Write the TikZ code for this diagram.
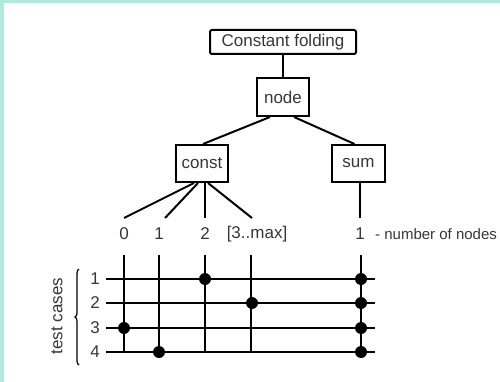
\documentclass[tikz,border=0pt]{standalone}
\usepackage{fontspec}
\setmainfont{Liberation Sans}
\usetikzlibrary{decorations.pathreplacing}
\definecolor{teal0}{RGB}{178,232,222}
\definecolor{ink}{RGB}{55,55,55}
\tikzset{
  box/.style={draw=black, line width=2pt, fill=white, inner sep=0pt, text=ink, font=\fontsize{17}{20}\selectfont},
  wire/.style={line width=2pt, draw=black},
  lbl/.style={text=ink, font=\fontsize{17}{20}\selectfont, inner sep=0pt},
  dot/.style={circle, fill=black, minimum size=12pt, inner sep=0pt},
}
\begin{document}
\begin{tikzpicture}[x=1pt,y=-1pt]
\useasboundingbox (0,0) rectangle (500,382);
\fill[teal0] (0,0) rectangle (500,382);
\fill[white] (4,3) rectangle (500,382);
% tree
\node[box, rounded corners=2pt, minimum width=146pt, minimum height=24pt] (top) at (283,42) {Constant folding};
\node[box, minimum width=52pt, minimum height=38pt] (nd) at (283,97) {node};
\node[box, minimum width=52pt, minimum height=37pt] (cst) at (202,163.5) {const};
\node[box, minimum width=53pt, minimum height=37pt] (sum) at (358.5,163.5) {sum};
\draw[wire] (top) -- (nd);
\draw[wire] ([xshift=-13pt]nd.south) -- ([xshift=1pt]cst.north);
\draw[wire] ([xshift=11pt]nd.south) -- ([xshift=-4pt]sum.north);
\coordinate (c0) at (124,218);
\coordinate (c1) at (165,218);
\coordinate (c2) at (205,218);
\coordinate (c3) at (252,218);
\coordinate (s0) at (360,218);
\draw[wire] ([xshift=-8pt]cst.south) -- (c0);
\draw[wire] ([xshift=-4pt]cst.south) -- (c1);
\draw[wire] ([xshift=3pt]cst.south) -- (c2);
\draw[wire] ([xshift=6pt]cst.south) -- (c3);
\draw[wire] (sum.south -| s0) -- (s0);
% labels
\node[lbl] (l0) at (124,234) {0};
\node[lbl] (l1) at (159,234) {1};
\node[lbl] (l2) at (205,234) {2};
\node[lbl] (l3) at (257,234) {[3..max]};
\node[lbl] (l4) at (360,234) {1};
\node[lbl, anchor=west, font=\fontsize{15}{18}\selectfont] (nn) at (375,234) {- number of nodes};
% grid
\foreach \i/\x in {0/124,1/159,2/205,3/251,4/361}{
  \coordinate (vt\i) at (\x,255);
  \coordinate (vb\i) at (\x,352);
  \draw[wire] (vt\i) -- (vb\i);
}
\foreach \j/\y in {1/279,2/303,3/328,4/352}{
  \coordinate (hl\j) at (106,\y);
  \coordinate (hr\j) at (375,\y);
  \draw[wire] (hl\j) -- (hr\j);
  \node[lbl] (r\j) at (95,\y) {\j};
}
% dots
\node[dot] (d1a) at (205,279) {};
\node[dot] (d1b) at (361,279) {};
\node[dot] (d2a) at (252,303) {};
\node[dot] (d2b) at (361,303) {};
\node[dot] (d3a) at (124,328) {};
\node[dot] (d3b) at (361,328) {};
\node[dot] (d4a) at (159,352) {};
\node[dot] (d4b) at (361,352) {};
% brace and caption
\coordinate (bb) at (79,365);
\coordinate (bt) at (79,269);
\draw[line width=1.2pt, decorate, decoration={brace, amplitude=4pt}] (bb) -- (bt);
\node[lbl, rotate=90] (tc) at (57,316) {test cases};
\end{tikzpicture}
\end{document}
